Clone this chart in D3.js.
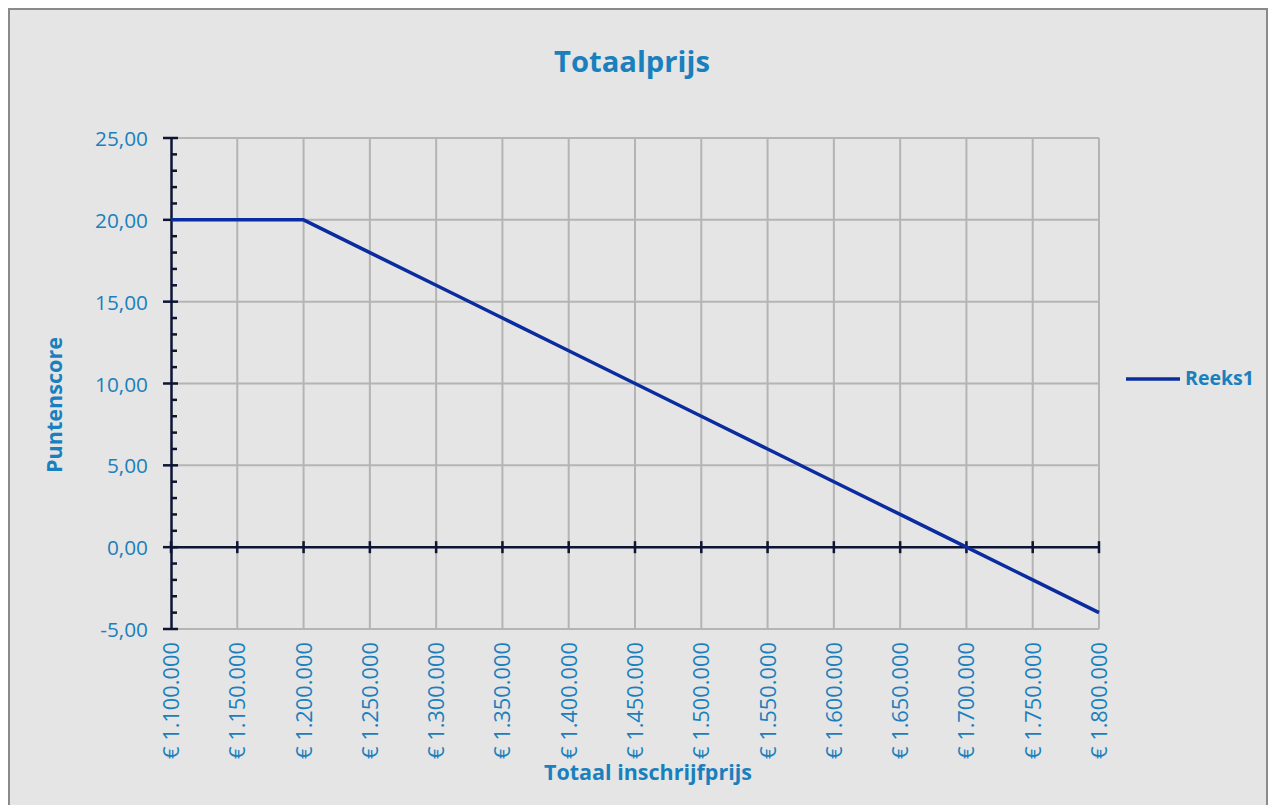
<!DOCTYPE html>
<html><head><meta charset="utf-8">
<script src="https://cdn.jsdelivr.net/npm/d3@7"></script>
<style>
html,body{margin:0;padding:0;background:#fff;}
svg{display:block;}
</style></head>
<body>
<script>
const categories = ["€ 1.100.000","€ 1.150.000","€ 1.200.000","€ 1.250.000","€ 1.300.000","€ 1.350.000","€ 1.400.000","€ 1.450.000","€ 1.500.000","€ 1.550.000","€ 1.600.000","€ 1.650.000","€ 1.700.000","€ 1.750.000","€ 1.800.000"];
const values = [20,20,20,18,16,14,12,10,8,6,4,2,0,-2,-4];
const yTicks = [-5,0,5,10,15,20,25];
const seriesName = "Reeks1";
const title = "Totaalprijs";
const xTitle = "Totaal inschrijfprijs";
const yTitle = "Puntenscore";

(function(){
const W = 1271, H = 805;
const font = "'Open Sans', 'Noto Sans', sans-serif";
const textColor = "#1a80bd";
const axisColor = "#0d1533";
const gridColor = "#b4b4b4";
const lineColor = "#0a2c9f";

const svg = d3.select("body").append("svg").attr("width", W).attr("height", H);
svg.append("rect").attr("x",9).attr("y",9).attr("width",1258).attr("height",800)
  .attr("fill","#e5e5e5").attr("stroke","#8a8a8a").attr("stroke-width",2);

// scale font size of a selection so the reference text reaches a target width
function fitSize(sel, target) {
  const node = sel.node();
  sel.style("font-size", "20px");
  const len = node.getComputedTextLength();
  return 20 * target / len;
}

const pL = 171, pR = 1099, pT = 138, pB = 629;
const x = d3.scalePoint().domain(categories).range([pL, pR]);
const y = d3.scaleLinear().domain([-5,25]).range([pB, pT]);

// grid
const g = svg.append("g");
g.selectAll(".hg").data(yTicks).join("line")
  .attr("x1", pL).attr("x2", pR).attr("y1", d=>y(d)).attr("y2", d=>y(d))
  .attr("stroke", gridColor).attr("stroke-width", 2);
g.selectAll(".vg").data(categories.slice(1)).join("line")
  .attr("x1", d=>x(d)).attr("x2", d=>x(d)).attr("y1", pT).attr("y2", pB)
  .attr("stroke", gridColor).attr("stroke-width", 2);

// y axis
const fmt = d => d3.format(".2f")(d).replace("−","-").replace(".", ",");
const yAxis = d3.axisLeft(y).tickValues(yTicks).tickSize(0).tickPadding(23).tickFormat(fmt);
const ya = svg.append("g").attr("transform", `translate(${pL},0)`).call(yAxis);
ya.select(".domain").attr("stroke", axisColor).attr("stroke-width", 2.5);
const yLab = ya.selectAll("text").attr("fill", textColor).style("font-family", font).attr("dy","0.36em");
const ySize = fitSize(yLab.filter(d => d === 25), 53);
yLab.style("font-size", ySize + "px");
ya.selectAll(".maj").data(yTicks).join("line").attr("class","maj")
  .attr("x1",-8).attr("x2",7).attr("y1",d=>y(d)).attr("y2",d=>y(d))
  .attr("stroke",axisColor).attr("stroke-width",2.5);
const minors = d3.range(-5,25.001,1).filter(v => v % 5 !== 0);
ya.selectAll(".min").data(minors).join("line").attr("class","min")
  .attr("x1",0).attr("x2",6).attr("y1",d=>y(d)).attr("y2",d=>y(d))
  .attr("stroke",axisColor).attr("stroke-width",2.5);

// x axis at 0
const xa = svg.append("g").attr("transform", `translate(0,${y(0)})`);
xa.append("line").attr("x1", pL).attr("x2", pR).attr("stroke", axisColor).attr("stroke-width", 2.5);
xa.selectAll(".xt").data(categories).join("line")
  .attr("x1", d=>x(d)).attr("x2", d=>x(d)).attr("y1",-6).attr("y2",6)
  .attr("stroke", axisColor).attr("stroke-width", 2.5);

// x labels
const xLab = svg.append("g").selectAll("text").data(categories).join("text")
  .attr("transform", d => `translate(${x(d)+8},${pB+13}) rotate(-90)`)
  .attr("text-anchor","end").attr("fill", textColor)
  .style("font-family", font).text(d=>d);
const xSize = fitSize(xLab.filter((d,i)=>i===0), 117);
xLab.style("font-size", xSize + "px");

// line
svg.append("path").datum(values)
  .attr("d", d3.line().x((d,i)=>x(categories[i])).y(d=>y(d)))
  .attr("fill","none").attr("stroke", lineColor).attr("stroke-width",3.5).attr("stroke-linejoin","round");

// titles
const t1 = svg.append("text").attr("x", 632).attr("y", 72).attr("text-anchor","middle")
  .attr("fill", textColor).style("font-family", font).style("font-weight","bold").text(title);
t1.style("font-size", fitSize(t1, 156) + "px");
const t2 = svg.append("text").attr("x", 648).attr("y", 780).attr("text-anchor","middle")
  .attr("fill", textColor).style("font-family", font).style("font-weight","bold").text(xTitle);
t2.style("font-size", fitSize(t2, 208) + "px");
const t3 = svg.append("text").attr("transform","translate(62,405) rotate(-90)").attr("text-anchor","middle")
  .attr("fill", textColor).style("font-family", font).style("font-weight","bold").text(yTitle);
t3.style("font-size", fitSize(t3, 136) + "px");

// legend
const lg = svg.append("g").attr("transform","translate(1126,379)");
lg.append("line").attr("x1",0).attr("x2",54).attr("stroke",lineColor).attr("stroke-width",3.5);
const lt = lg.append("text").attr("x",59).attr("y",6).attr("fill",textColor)
  .style("font-family", font).style("font-weight","bold").text(seriesName);
lt.style("font-size", fitSize(lt, 69) + "px");
})();
</script>
</body></html>
